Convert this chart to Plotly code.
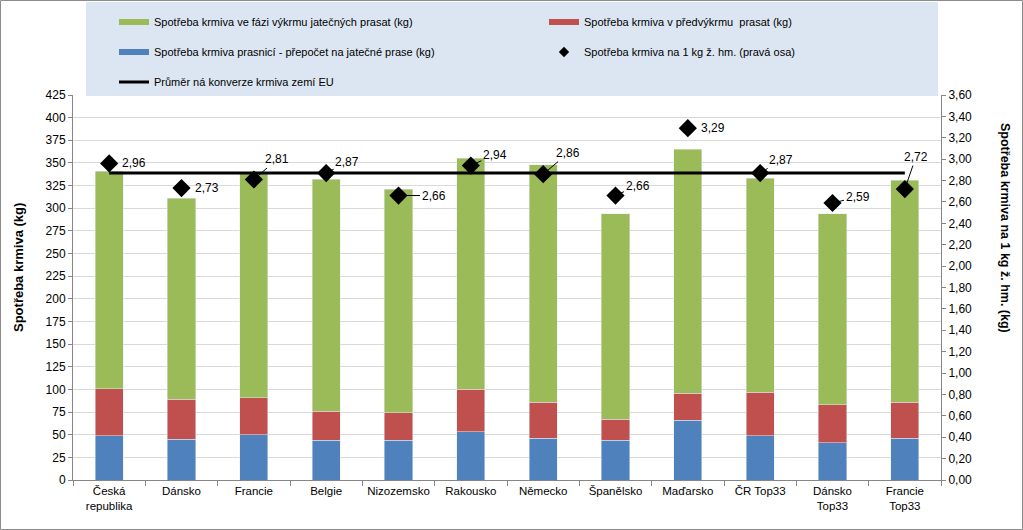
import plotly.graph_objects as go

# ---------------- data ----------------
categories = ["Česká republika", "Dánsko", "Francie", "Belgie", "Nizozemsko", "Rakousko",
              "Německo", "Španělsko", "Maďarsko", "ČR Top33", "Dánsko Top33", "Francie Top33"]
tick_labels = ["Česká<br>republika", "Dánsko", "Francie", "Belgie", "Nizozemsko", "Rakousko",
               "Německo", "Španělsko", "Maďarsko", "ČR Top33", "Dánsko<br>Top33", "Francie<br>Top33"]
feed_sows = [49, 45, 50, 44, 44, 53, 46, 44, 66, 49, 41, 46]          # prasnice - přepočet
feed_prefinish = [52, 44, 41, 32, 30, 47, 40, 23, 30, 48, 42, 40]     # předvýkrm
feed_finish = [240, 222, 248, 256, 247, 255, 262, 227, 269, 236, 211, 245]  # výkrm
feed_per_kg = [2.96, 2.73, 2.81, 2.87, 2.66, 2.94, 2.86, 2.66, 3.29, 2.87, 2.59, 2.72]
eu_avg = 2.87

# ---------------- style constants ----------------
FONT = "Liberation Sans, Arial, sans-serif"
GREEN, RED, BLUE = "#9bbb59", "#c0504d", "#4f81bd"
AXIS_GRAY = "#868686"
W, H = 1023, 530
L, R, T, B = 73, 82, 95, 50
PW, PH = W - L - R, H - T - B

# label offsets in pixels (dx, dy screen; leader flag)
LABEL_OFFSETS = [(25, 0, False), (25, 0, False), (23, -20, True), (21, -11, True),
                 (35, 0, True), (24, -11, True), (25, -21, True), (22, -10, True),
                 (25, 0, False), (21, -13, True), (25, -6, True), (11, -32, True)]

NAME_SOWS = "Spotřeba krmiva prasnicí - přepočet na jatečné prase (kg)"
NAME_PRE = "Spotřeba krmiva v předvýkrmu  prasat (kg)"
NAME_FIN = "Spotřeba krmiva ve fázi výkrmu jatečných prasat (kg)"
NAME_RATIO = "Spotřeba krmiva na 1 kg ž. hm. (pravá osa)"
NAME_AVG = "Průměr ná konverze krmiva zemí EU"


def px_x(px):
    return (px - L) / PW


def px_y(py):
    return (H - B - py) / PH


def fmt(v):
    return f"{v:.2f}".replace(".", ",")


fig = go.Figure()

fig.add_trace(go.Bar(x=categories, y=feed_sows, name=NAME_SOWS, marker_color=BLUE, showlegend=False))
fig.add_trace(go.Bar(x=categories, y=feed_prefinish, name=NAME_PRE, marker_color=RED, showlegend=False))
fig.add_trace(go.Bar(x=categories, y=feed_finish, name=NAME_FIN, marker_color=GREEN, showlegend=False))
fig.add_trace(go.Scatter(x=categories, y=[eu_avg] * len(categories), mode="lines",
                         name=NAME_AVG, line=dict(color="black", width=3),
                         yaxis="y2", legend="legend3"))
fig.add_trace(go.Scatter(x=categories, y=feed_per_kg, mode="markers", name=NAME_RATIO,
                         marker=dict(symbol="diamond", size=14, color="black"),
                         yaxis="y2", showlegend=False))

# legend-only entries (Excel-like flat swatches and a small diamond)
def legend_swatch(name, color, legend, rank):
    fig.add_trace(go.Scatter(x=[None], y=[None], mode="lines", name=name,
                             line=dict(color=color, width=6), legend=legend, legendrank=rank))


legend_swatch(NAME_FIN, GREEN, "legend", 1)
legend_swatch(NAME_PRE, RED, "legend", 2)
legend_swatch(NAME_SOWS, BLUE, "legend2", 1)
fig.add_trace(go.Scatter(x=[None], y=[None], mode="markers", name=NAME_RATIO,
                         marker=dict(symbol="diamond", size=8, color="black"),
                         yaxis="y2", legend="legend2", legendrank=2))

annotations = []
for cat, v, (dx, dy, leader) in zip(categories, feed_per_kg, LABEL_OFFSETS):
    if leader:
        annotations.append(dict(x=cat, y=v, xref="x", yref="y2", text=fmt(v), showarrow=True,
                                ax=dx, ay=dy, arrowhead=0, arrowwidth=1, arrowcolor="black",
                                standoff=3, font=dict(size=12, color="black", family=FONT)))
    else:
        annotations.append(dict(x=cat, y=v, xref="x", yref="y2", text=fmt(v), showarrow=False,
                                xshift=dx, yshift=-dy, font=dict(size=12, color="black", family=FONT)))

annotations.append(dict(x=px_x(18), y=px_y(268), xref="paper", yref="paper", text="<b>Spotřeba krmiva (kg)</b>",
                        textangle=-90, showarrow=False, xanchor="center", yanchor="middle",
                        font=dict(size=13, color="black", family=FONT)))
annotations.append(dict(x=px_x(1005), y=px_y(228), xref="paper", yref="paper",
                        text="<b>Spotřeba krmiva na 1 kg ž. hm. (kg)</b>", xanchor="center", yanchor="middle",
                        textangle=90, showarrow=False, font=dict(size=12.5, color="black", family=FONT)))

shapes = [
    # legend background
    dict(type="rect", xref="paper", yref="paper", x0=px_x(86), x1=px_x(938), y0=px_y(96), y1=px_y(2),
         fillcolor="#dce6f2", line=dict(width=0), layer="below"),
    # outer border
    dict(type="rect", xref="paper", yref="paper", x0=px_x(0.5), x1=px_x(W - 0.5), y0=px_y(H - 0.5), y1=px_y(0.5),
         fillcolor="rgba(0,0,0,0)", line=dict(width=1, color="#8c8c8c"), layer="above"),
]

legend_common = dict(orientation="h", bgcolor="rgba(0,0,0,0)", font=dict(size=11, color="black", family=FONT),
                     entrywidth=385, entrywidthmode="pixels", xanchor="left", yanchor="middle",
                     traceorder="normal")

fig.update_layout(
    width=W, height=H,
    margin=dict(l=L, r=R, t=T, b=B, autoexpand=False),
    paper_bgcolor="white", plot_bgcolor="white",
    font=dict(family=FONT, size=12, color="black"),
    separators=", ",
    barmode="stack", bargap=0.61,
    showlegend=True,
    legend=dict(**legend_common, x=px_x(114), y=px_y(22)),
    legend2=dict(**legend_common, x=px_x(114), y=px_y(52)),
    legend3=dict(**legend_common, x=px_x(114), y=px_y(82)),
    xaxis=dict(type="category", tickvals=categories, ticktext=tick_labels, tickson="boundaries",
               ticks="outside", ticklen=5, tickcolor=AXIS_GRAY, showline=True, linecolor=AXIS_GRAY,
               range=[-0.5, len(categories) - 0.5], tickfont=dict(size=11.5), tickangle=0, showgrid=False),
    yaxis=dict(range=[0, 425], dtick=25, ticks="outside", ticklen=4, tickcolor=AXIS_GRAY,
               showline=True, linecolor=AXIS_GRAY, gridcolor="#d9d9d9", zeroline=False,
               tickfont=dict(size=12)),
    yaxis2=dict(overlaying="y", side="right", range=[0, 3.6], dtick=0.2, tickformat=".2f",
                ticks="outside", ticklen=4, tickcolor=AXIS_GRAY, showline=True, linecolor=AXIS_GRAY,
                showgrid=False, zeroline=False, tickfont=dict(size=12)),
    annotations=annotations,
    shapes=shapes,
)

fig.write_html("out.html")
